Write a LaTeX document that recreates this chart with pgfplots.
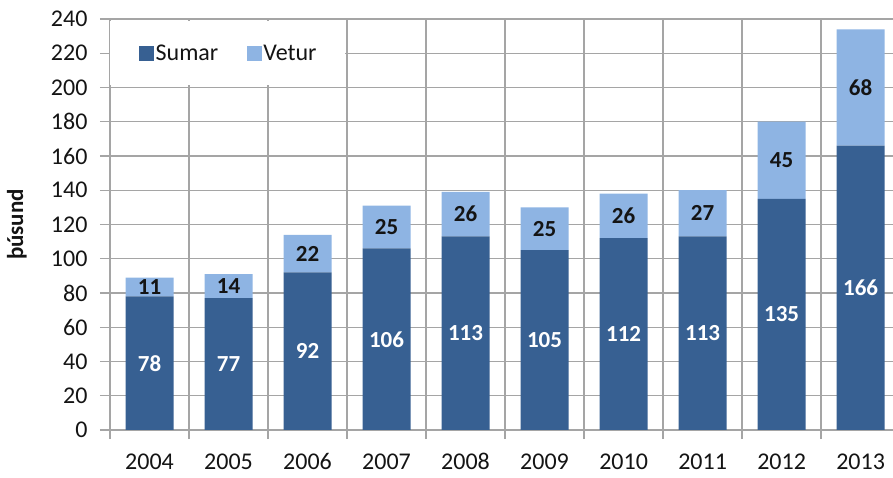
\documentclass[border=0pt]{standalone}
\usepackage{pgfplots}
\pgfplotsset{compat=1.18}
\usepackage{pgfplotstable}
\usepackage{fontspec}
\setmainfont{Carlito}
\definecolor{sumar}{RGB}{55,96,146}
\definecolor{vetur}{RGB}{142,180,227}
\definecolor{gridc}{RGB}{165,165,165}
\definecolor{txt}{RGB}{20,20,20}

\pgfplotstableread{
x s v
0 78 11
1 77 14
2 92 22
3 106 25
4 113 26
5 105 25
6 112 26
7 113 27
8 135 45
9 166 68
}\datatable

\begin{document}
\begin{tikzpicture}
\useasboundingbox (0,0) rectangle (893bp,478bp);
\begin{axis}[
  at={(110bp,48bp)}, anchor=south west,
  scale only axis, width=783bp, height=411bp,
  /pgf/number format/assume math mode=true,
  ybar stacked, bar width=48bp,
  xmin=-0.5, xmax=9.41, ymin=0, ymax=240,
  axis x line*=bottom, axis y line*=left,
  tick pos=left, tick align=outside,
  xtick={0,1,2,3,4,5,6,7,8,9},
  xticklabels={2004,2005,2006,2007,2008,2009,2010,2011,2012,2013},
  minor xtick={-0.5,0.5,1.5,2.5,3.5,4.5,5.5,6.5,7.5,8.5},
  xminorgrids, ymajorgrids,
  ytick={0,20,...,240},
  major tick length=10bp, minor tick length=9bp,
  major x tick style={draw=none},
  grid style={gridc, line width=1.3bp},
  minor grid style={gridc, line width=1.3bp},
  axis line style={gridc, line width=1.3bp},
  tick style={gridc, line width=1.3bp},
  tick label style={font=\fontsize{24bp}{28bp}\selectfont, text=txt},
  yticklabel style={xshift=-9bp},
  xticklabel style={yshift=-10bp},
  ylabel={þúsund},
  ylabel style={at={(axis description cs:-0.1188,0.5)}, anchor=center, font=\fontsize{23bp}{27bp}\selectfont\bfseries, text=txt},
  legend columns=2,
  legend style={at={(0.037,0.917)}, anchor=west, draw=none, fill=none, inner sep=0pt,
    font=\fontsize{24bp}{28bp}\selectfont, text=txt,
    nodes={inner sep=1.5bp},
    /tikz/every even column/.append style={column sep=27bp}},
  sq legend/.style={legend image code/.code={\fill[##1, draw=none] (0bp,-7.5bp) rectangle (15bp,7.5bp);}},
  nodes near coords={\pgfmathprintnumber{\pgfplotspointmeta}},
  point meta=explicit,
]
\fill[white] (axis cs:-0.53,201.2) rectangle (axis cs:2.47,238.8);
\addplot[fill=sumar, draw=none, sq legend,
  every node near coord/.append style={anchor=center, text=white, font=\fontsize{23bp}{27bp}\selectfont\bfseries}]
  table[x=x, y=s, meta=s] {\datatable};
\addplot[fill=vetur, draw=none, sq legend,
  every node near coord/.append style={anchor=center, text=txt, font=\fontsize{23bp}{27bp}\selectfont\bfseries}]
  table[x=x, y=v, meta=v] {\datatable};
\legend{Sumar, Vetur}
\end{axis}
\end{tikzpicture}
\end{document}
